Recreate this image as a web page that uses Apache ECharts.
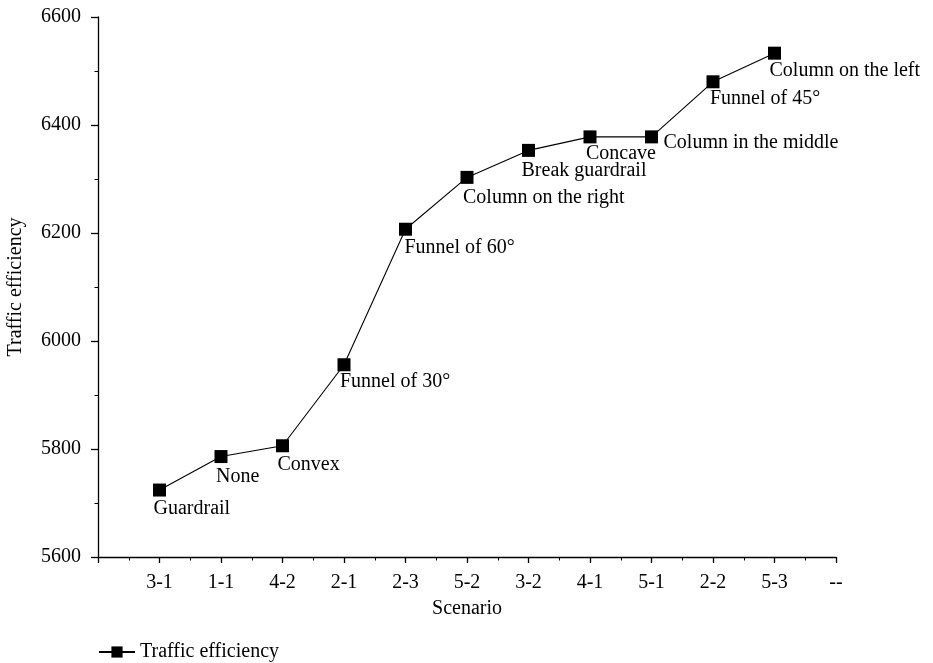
<!DOCTYPE html>
<html>
<head>
<meta charset="utf-8">
<title>Traffic efficiency</title>
<script src="https://cdn.jsdelivr.net/npm/echarts@6/dist/echarts.min.js"></script>
<style>
	html, body { margin: 0; padding: 0; background: #fff; }
	#main { width: 933px; height: 663px; }
</style>
</head>
<body>
<div id="main"></div>
<script>
	// data
	var scenarios = ['3-1', '1-1', '4-2', '2-1', '2-3', '5-2', '3-2', '4-1', '5-1', '2-2', '5-3', '--'];
	var efficiency = [5724, 5786, 5806, 5956, 6207, 6303, 6353, 6378, 6378, 6480, 6533];
	var pointNames = ['Guardrail', 'None', 'Convex', 'Funnel of 30°', 'Funnel of 60°', 'Column on the right',
		'Break guardrail', 'Concave', 'Column in the middle', 'Funnel of 45°', 'Column on the left'];
	var yTicks = [5600, 5800, 6000, 6200, 6400, 6600];

	// label top-left offset from marker centre
	var labelOffset = [[-6, 9], [-5, 10], [-5, 9], [-4, 7], [-1, 9], [-4, 10],
		[-7, 10], [-4, 7], [12, -4], [-3, 7], [-5, 8]];

	var font = 'Liberation Serif';
	var symSize = 13;

	var chart = echarts.init(document.getElementById('main'));

	var seriesData = [];
	for(var i = 0; i < efficiency.length; i++) {
		seriesData.push({
			value: [i + 1, efficiency[i]],
			name: pointNames[i],
			label: {
				position: [labelOffset[i][0] + symSize / 2, labelOffset[i][1] + symSize / 2]
			}
		});
	}

	var axisText = { color: '#000', fontFamily: font, fontSize: 20 };

	var option = {
		backgroundColor: '#fff',
		animation: false,
		grid: { left: 98, right: 97, top: 17, bottom: 106, outerBoundsMode: 'none' },
		legend: {
			left: 93,
			top: 637,
			itemWidth: 36,
			itemHeight: 14,
			itemGap: 8,
			data: ['Traffic efficiency'],
			textStyle: { color: '#000', fontFamily: font, fontSize: 20 }
		},
		xAxis: {
			type: 'value',
			min: 0,
			max: scenarios.length,
			interval: 1,
			name: 'Scenario',
			nameLocation: 'middle',
			nameGap: 42,
			nameTextStyle: axisText,
			axisLine: { lineStyle: { color: '#000', width: 1.3 } },
			axisTick: { length: 6, lineStyle: { color: '#000', width: 1.3 } },
			minorTick: { show: true, splitNumber: 2, length: 3.5, lineStyle: { color: '#000', width: 1 } },
			splitLine: { show: false },
			axisLabel: {
				margin: 16,
				color: '#000',
				fontFamily: font,
				fontSize: 20,
				formatter: function(v) {
					return v >= 1 ? scenarios[v - 1] : '';
				}
			}
		},
		yAxis: {
			type: 'value',
			min: yTicks[0],
			max: yTicks[yTicks.length - 1],
			interval: 200,
			name: 'Traffic efficiency',
			nameLocation: 'middle',
			nameGap: 72,
			nameTextStyle: axisText,
			axisLine: { show: true, lineStyle: { color: '#000', width: 1.3 } },
			axisTick: { show: true, length: 7, lineStyle: { color: '#000', width: 1.3 } },
			minorTick: { show: true, splitNumber: 2, length: 3.5, lineStyle: { color: '#000', width: 1 } },
			splitLine: { show: false },
			axisLabel: {
				margin: 17,
				color: '#000',
				fontFamily: font,
				fontSize: 20,
				formatter: function(v) {
					return String(v);
				}
			}
		},
		series: [{
			name: 'Traffic efficiency',
			type: 'line',
			data: seriesData,
			symbol: 'rect',
			symbolSize: symSize,
			itemStyle: { color: '#000' },
			lineStyle: { color: '#000', width: 1.1 },
			label: {
				show: true,
				align: 'left',
				verticalAlign: 'top',
				color: '#000',
				fontFamily: font,
				fontSize: 20,
				formatter: '{b}'
			},
			emphasis: { disabled: true }
		}]
	};

	chart.setOption(option);
</script>
</body>
</html>
